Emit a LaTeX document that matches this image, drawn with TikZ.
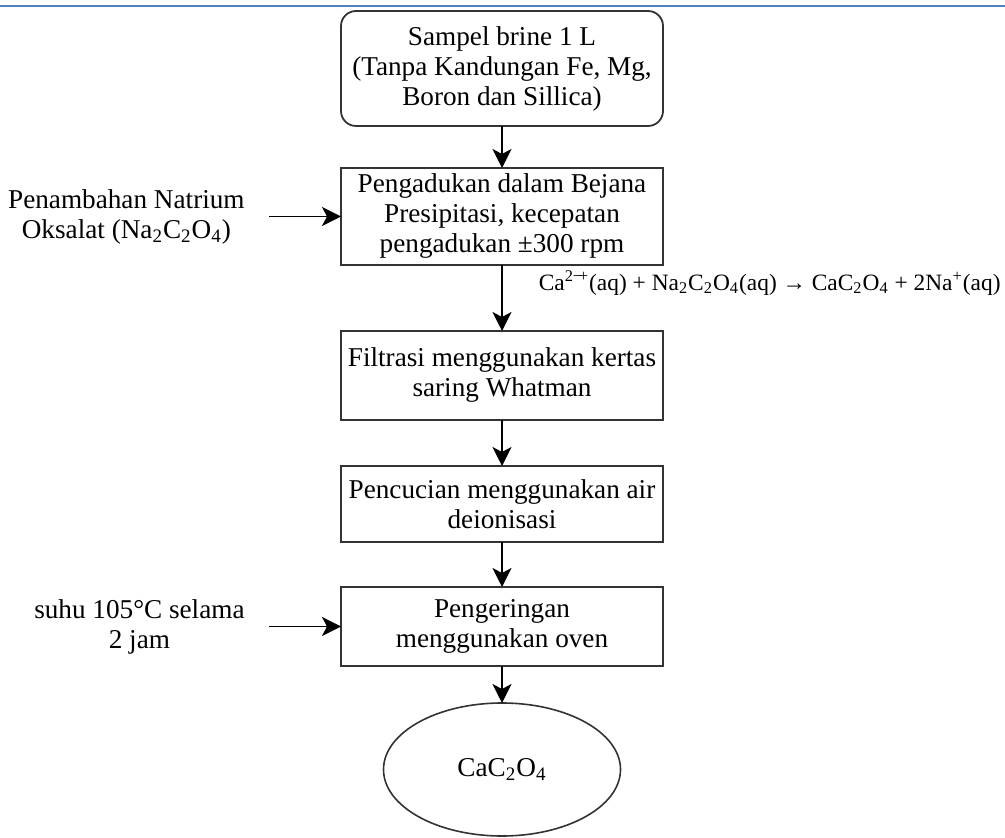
\documentclass[tikz,border=0pt]{standalone}
\usepackage{fontspec}
\setmainfont{Liberation Serif}
\usetikzlibrary{arrows.meta,shapes.geometric}
\newcommand{\flowfont}{\fontsize{13.6}{15}\selectfont}
\newcommand{\eqnfont}{\fontsize{11.7}{13}\selectfont}
\definecolor{wordblue}{RGB}{79,129,189}

\begin{document}
\begin{tikzpicture}
\begin{scope}

\tikzstyle{node1} = [minimum width=161pt,minimum height=57.5pt,draw=black!80,line width=0.9pt,outer sep=0pt,rounded corners=7.5pt,align=center,inner sep=2pt,font=\flowfont];
\tikzstyle{node2} = [minimum width=161pt,draw=black!80,line width=0.9pt,outer sep=0pt,align=center,inner sep=2pt,font=\flowfont];
\tikzstyle{node3} = [ellipse,minimum width=118.5pt,minimum height=66.5pt,draw=black!80,line width=0.8pt,outer sep=0pt,inner sep=0pt,font=\flowfont];
\tikzstyle{node4} = [align=center,inner xsep=12pt,inner ysep=0pt,font=\flowfont];
\tikzstyle{line1} = [-{Stealth[length=9.5pt,width=9.5pt,inset=2.5pt]},line width=0.8pt];

\useasboundingbox (0,0) rectangle (502.5pt,-419pt);
\draw [wordblue,line width=1pt] (0,-3pt) -- (502.5pt,-3pt);

\node [node1,anchor=north] (b1) at (251pt,-5.5pt) {Sampel brine 1 L\\(Tanpa Kandungan Fe, Mg,\\Boron dan Sillica)};
\node [node2,anchor=north,minimum height=48.5pt] (b2) at ([yshift=-21pt]b1.south) {Pengadukan dalam Bejana\\Presipitasi, kecepatan\\pengadukan ±300 rpm};
\node [node2,anchor=north,minimum height=44.5pt] (b3) at ([yshift=-33pt]b2.south) {Filtrasi menggunakan kertas\\saring Whatman};
\node [node2,anchor=north,minimum height=38pt] (b4) at ([yshift=-23pt]b3.south) {Pencucian menggunakan air\\deionisasi};
\node [node2,anchor=north,minimum height=39.5pt] (b5) at ([yshift=-22.5pt]b4.south) {Pengeringan\\menggunakan oven};
\node [node3,anchor=north] (b6) at ([yshift=-18.5pt]b5.south) {CaC\textsubscript{2}O\textsubscript{4}};

\node [node4,anchor=east] (in1) at ([xshift=-36pt]b2.west) {Penambahan Natrium\\Oksalat (Na\textsubscript{2}C\textsubscript{2}O\textsubscript{4})};
\node [node4,anchor=east] (in2) at ([xshift=-36pt]b5.west) {suhu 105°C selama\\2 jam};

\draw [line1] (b1.south) -- (b2.north);
\draw [line1] (b2.south) -- node [pos=0.27,anchor=west,xshift=18pt,inner sep=0pt,font=\eqnfont] (eq) {Ca\textsuperscript{2−\kern-0.2em+}(aq) + Na\textsubscript{2}C\textsubscript{2}O\textsubscript{4}(aq) → CaC\textsubscript{2}O\textsubscript{4} + 2Na\textsuperscript{+}(aq)} (b3.north);
\draw [line1] (b3.south) -- (b4.north);
\draw [line1] (b4.south) -- (b5.north);
\draw [line1] (b5.south) -- (b6.north);
\draw [line1] (in1.east) -- (b2.west);
\draw [line1] (in2.east) -- (b5.west);

\end{scope}
\end{tikzpicture}
\end{document}
